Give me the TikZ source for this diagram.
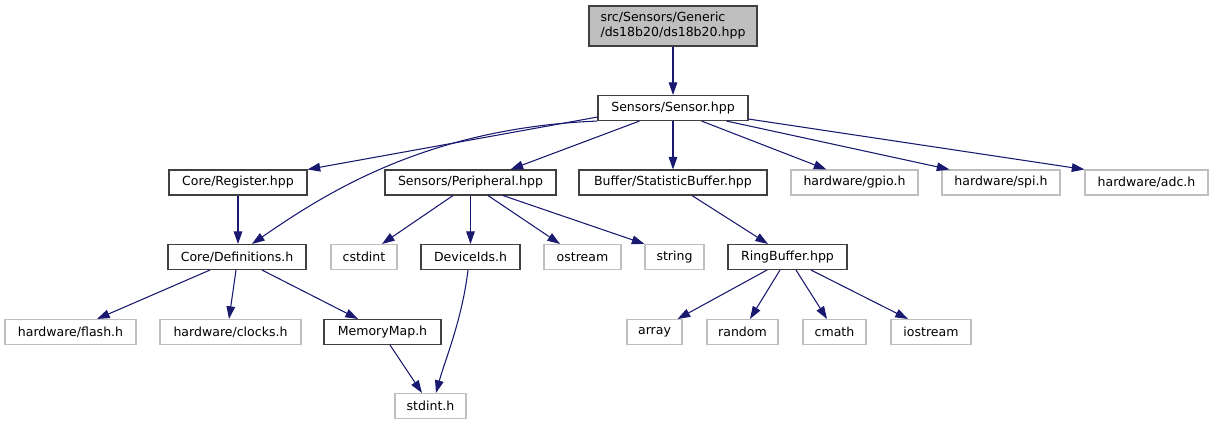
\documentclass[tikz,border=0pt]{standalone}
\usepackage{fontspec}
\setmainfont{DejaVu Sans}
\usetikzlibrary{arrows.meta,calc}
\definecolor{edgeblue}{HTML}{191970}
\definecolor{boxline}{HTML}{404040}
\definecolor{extline}{HTML}{BFBFBF}
\definecolor{rootfill}{HTML}{BFBFBF}
\begin{document}
\begin{tikzpicture}[x=0.75pt,y=-0.75pt,
 base/.style={rectangle, inner sep=0pt, minimum height=18.75pt, font=\fontsize{9.4}{11.25}\selectfont, text=black, line width=0.8pt},
 file/.style={base, draw=boxline},
 ext/.style={base, draw=extline},
 bw/.style={minimum width=#1*0.75pt},
 conn/.style={draw=edgeblue, line width=0.8pt, -{Triangle[length=9.5pt,width=6.5pt]}}
]
\useasboundingbox (0,0) rectangle (1213,425);

\node[file, fill=rootfill, bw=168, minimum height=30pt, align=left] (root) at (673,26) {src/Sensors/Generic\\/ds18b20/ds18b20.hpp};
\node[file,bw=150] (sensor) at (673,108) {Sensors/Sensor.hpp};
\node[file,bw=138] (reg) at (238,182.5) {Core/Register.hpp};
\node[file,bw=171] (periph) at (470.5,182.5) {Sensors/Peripheral.hpp};
\node[file,bw=188] (statbuf) at (673,182.5) {Buffer/StatisticBuffer.hpp};
\node[ext,bw=127] (gpio) at (854.5,182.5) {hardware/gpio.h};
\node[ext,bw=118] (spi) at (1001,182.5) {hardware/spi.h};
\node[ext,bw=123] (adc) at (1146.5,182.5) {hardware/adc.h};
\node[file,bw=138] (defs) at (237,257) {Core/Definitions.h};
\node[ext,bw=66] (cstdint) at (364,257) {cstdint};
\node[file,bw=99] (devids) at (470.5,257) {DeviceIds.h};
\node[ext,bw=77] (ostream) at (582.5,257) {ostream};
\node[ext,bw=59] (string) at (674.5,257) {string};
\node[file,bw=119] (ring) at (787.5,257) {RingBuffer.hpp};
\node[ext,bw=131] (flash) at (70.5,332) {hardware/flash.h};
\node[ext,bw=141] (clocks) at (230.5,332) {hardware/clocks.h};
\node[file,bw=117] (memmap) at (382.5,332) {MemoryMap.h};
\node[ext,bw=55] (array) at (654.5,332) {array};
\node[ext,bw=71] (random) at (742.5,332) {random};
\node[ext,bw=63] (cmath) at (834.5,332) {cmath};
\node[ext,bw=80] (iostream) at (931,332) {iostream};
\node[ext,bw=71] (stdint) at (430.5,406) {stdint.h};

\path[conn] (root.south) -- (sensor.north);
\path[conn] ($(sensor.south west)+(0,-4)$) -- (reg.north east);
\path[conn] (sensor.south west) .. controls (430,128) and (330,190) .. ($(defs.north)+(15,0)$);
\path[conn] ($(sensor.south west)+(42,0)$) -- ($(periph.north)+(40,0)$);
\path[conn] (sensor.south) -- (statbuf.north);
\path[conn] ($(sensor.south west)+(104,0)$) -- ($(gpio.north west)+(36,0)$);
\path[conn] ($(sensor.south west)+(129,0)$) -- ($(spi.north west)+(8,0)$);
\path[conn] ($(sensor.south east)+(0,-2)$) -- (adc.north west);

\path[conn] (reg.south) -- (reg.south |- defs.north);
\path[conn] ($(periph.south)+(-17.5,0)$) -- ($(cstdint.north)+(18,0)$);
\path[conn] (periph.south) -- (devids.north);
\path[conn] ($(periph.south)+(17.5,0)$) -- ($(ostream.north)+(-22.5,0)$);
\path[conn] ($(periph.south)+(32.5,0)$) -- (string.north west);
\path[conn] ($(statbuf.south)+(19,0)$) -- ($(ring.north)+(-19.5,0)$);

\path[conn] ($(defs.south)+(-27,0)$) -- ($(flash.north)+(26.5,0)$);
\path[conn] ($(defs.south)+(-1,0)$) -- ($(clocks.north)+(-1.5,0)$);
\path[conn] ($(defs.south)+(25,0)$) -- ($(memmap.north)+(-24.5,0)$);
\path[conn] ($(memmap.south)+(7.5,0)$) -- ($(stdint.north)+(-8.5,0)$);
\path[conn] ($(devids.south)+(-2.5,0)$) .. controls (462,320) and (445,360) .. ($(stdint.north)+(5.5,0)$);

\path[conn] ($(ring.south)+(-20.5,0)$) -- ($(array.north east)+(-5,0)$);
\path[conn] ($(ring.south)+(-7.5,0)$) -- ($(random.north)+(7.5,0)$);
\path[conn] ($(ring.south)+(8.5,0)$) -- ($(cmath.north)+(-7.5,0)$);
\path[conn] ($(ring.south)+(23.5,0)$) -- ($(iostream.north)+(-23,0)$);
\end{tikzpicture}
\end{document}
